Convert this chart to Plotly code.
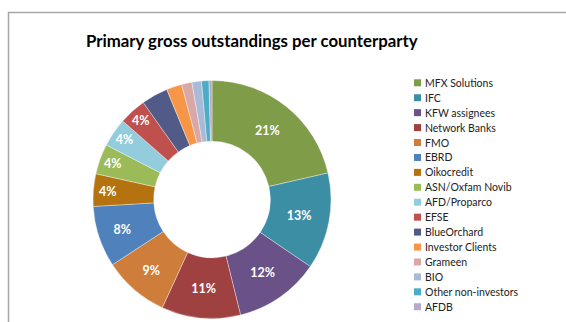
import plotly.graph_objects as go

categories = ["MFX Solutions", "IFC", "KFW assignees", "Network Banks", "FMO", "EBRD",
              "Oikocredit", "ASN/Oxfam Novib", "AFD/Proparco", "EFSE", "BlueOrchard",
              "Investor Clients", "Grameen", "BIO", "Other non-investors", "AFDB"]
values = [21.4, 13.1, 11.6, 10.7, 8.9, 8.3, 4.4, 4.1, 3.9, 3.7, 3.6, 2.1, 1.4, 1.3, 1.0, 0.4]
colors = ["#7F9C49", "#3C8EA4", "#6A5188", "#9E4140", "#CF7D3A", "#4F81BD",
          "#B4730F", "#9BBB59", "#93CDDD", "#C0504D", "#525B87", "#F79646",
          "#D9A7A6", "#A9BAD8", "#4BACC6", "#B7A9C9"]
labelled = [True] * 10 + [False] * 6

W, H = 566, 322
FONT = "Lato"

fig = go.Figure()
fig.add_trace(go.Pie(
    labels=categories,
    values=values,
    sort=False,
    direction="clockwise",
    rotation=0,
    hole=0.49,
    marker=dict(colors=colors, line=dict(color="rgba(255,255,255,0.6)", width=0.6)),
    texttemplate=["%{percent:.0%}" if s else "" for s in labelled],
    textposition="inside",
    insidetextorientation="horizontal",
    textfont=dict(family=FONT, size=12.5, color="white", weight="bold"),
    showlegend=False,
    domain=dict(x=[93 / W, 331 / W], y=[1 - 318.5 / H, 1 - 80.5 / H]),
))

# outer chart border (top and left visible)
fig.add_shape(type="rect", xref="paper", yref="paper",
              x0=8.5 / W, x1=1.2, y0=-0.2, y1=1 - 12.5 / H,
              line=dict(color="#A6A6A6", width=1.5), fillcolor="rgba(0,0,0,0)")

# legend drawn as markers + text
y0, step = 82.8, 14.93
for i, (name, col) in enumerate(zip(categories, colors)):
    yc = y0 + i * step
    fig.add_shape(type="rect", xref="paper", yref="paper",
                  x0=414 / W, x1=421 / W, y0=1 - (yc + 3.5) / H, y1=1 - (yc - 3.5) / H,
                  line=dict(width=0), fillcolor=col)
    fig.add_annotation(x=423 / W, y=1 - yc / H, xref="paper", yref="paper",
                       text=name, showarrow=False, xanchor="left", yanchor="middle",
                       font=dict(family=FONT, size=10.5, color="#222222"))

fig.add_annotation(x=252 / W, y=1 - 40 / H, xref="paper", yref="paper",
                   text="<b>Primary gross outstandings per counterparty</b>",
                   showarrow=False, xanchor="center", yanchor="middle",
                   font=dict(family=FONT, size=16.8, color="black"))

fig.update_layout(
    width=W, height=H,
    margin=dict(l=0, r=0, t=0, b=0),
    paper_bgcolor="white", plot_bgcolor="white",
    font=dict(family=FONT),
)

fig.write_html("out.html")
